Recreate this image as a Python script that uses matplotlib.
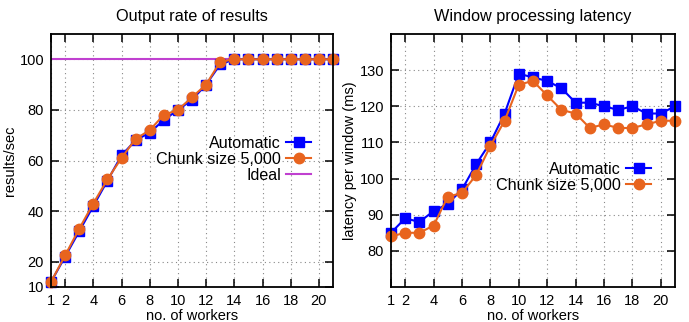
import matplotlib
matplotlib.use("Agg")
import matplotlib.pyplot as plt

# workers on the x axis
workers = list(range(1, 22))

# output rate (results/sec)
rate_auto = [12, 22, 32, 42, 52, 62, 68, 71, 76, 80, 84, 90, 98,
             100, 100, 100, 100, 100, 100, 100, 100]
rate_chunk = [12, 22.5, 33, 43, 52.5, 61, 68.5, 72, 78, 80, 85, 90, 99,
              100, 100, 100, 100, 100, 100, 100, 100]
rate_ideal = 100

# window latency (ms)
lat_auto = [85, 89, 88, 91, 93, 97, 104, 110, 118, 129, 128, 127, 125,
            121, 121, 120, 119, 120, 118, 118, 120]
lat_chunk = [84, 85, 85, 87, 95, 96, 101, 109, 116, 126, 127, 123, 119,
             118, 114, 115, 114, 114, 115, 116, 116]

xticks = [1, 2, 4, 6, 8, 10, 12, 14, 16, 18, 20]

BLUE = "#0000ff"
ORANGE = "#e8641e"
PURPLE = "#c040d0"

plt.rcParams["font.family"] = ["Liberation Sans", "DejaVu Sans"]
plt.rcParams["font.size"] = 10.5

fig = plt.figure(figsize=(6.89, 3.22), dpi=100)
ax1 = fig.add_axes([51 / 689, 1 - 287 / 322, 282 / 689, 253 / 322])
ax2 = fig.add_axes([391 / 689, 1 - 287 / 322, 284 / 689, 253 / 322])

legend_kw = dict(frameon=False, markerfirst=False, handlelength=1.55,
                 handletextpad=0.3, labelspacing=0.05, fontsize=11.6,
                 borderpad=0, borderaxespad=0)


def style_axes(ax):
    ax.set_xlim(1, 21)
    ax.set_xticks(xticks)
    ax.tick_params(direction="in", top=True, right=True, length=6, width=1.1,
                   labelsize=10.5, pad=5)
    ax.grid(True, linestyle=(0, (1, 3)), color="#888888", linewidth=0.8)
    for s in ax.spines.values():
        s.set_linewidth(1.3)
        s.set_zorder(5)
    ax.set_xlabel("no. of workers", labelpad=1)


# left: output rate
ax1.axhline(rate_ideal, color=PURPLE, lw=1.5, label="Ideal", zorder=2)
ax1.plot(workers, rate_auto, color=BLUE, lw=1.5, marker="s", ms=7.5,
         label="Automatic", zorder=3, clip_on=False)
ax1.plot(workers, rate_chunk, color=ORANGE, lw=1.5, marker="o", ms=7.5,
         label="Chunk size 5,000", zorder=4, clip_on=False)
ax1.set_ylim(10, 110)
ax1.set_yticks([10, 20, 40, 60, 80, 100])
ax1.set_ylabel("results/sec", labelpad=2)
ax1.set_title("Output rate of results", fontsize=11.7, pad=9)
style_axes(ax1)
h, l = ax1.get_legend_handles_labels()
ax1.legend([h[1], h[2], h[0]], [l[1], l[2], l[0]], loc="upper right",
           bbox_to_anchor=(311 / 689, 1 - 136 / 322),
           bbox_transform=fig.transFigure, **legend_kw)

# right: latency
ax2.plot(workers, lat_auto, color=BLUE, lw=1.5, marker="s", ms=7.5,
         label="Automatic", zorder=3, clip_on=False)
ax2.plot(workers, lat_chunk, color=ORANGE, lw=1.5, marker="o", ms=7.5,
         label="Chunk size 5,000", zorder=4, clip_on=False)
ax2.set_ylim(70, 140)
ax2.set_yticks([80, 90, 100, 110, 120, 130])
ax2.set_ylabel("latency per window (ms)", labelpad=2)
ax2.set_title("Window processing latency", fontsize=11.7, pad=9)
style_axes(ax2)
ax2.legend(loc="upper right", bbox_to_anchor=(651 / 689, 1 - 162 / 322),
           bbox_transform=fig.transFigure, **legend_kw)

fig.savefig("out.png", dpi=100)
